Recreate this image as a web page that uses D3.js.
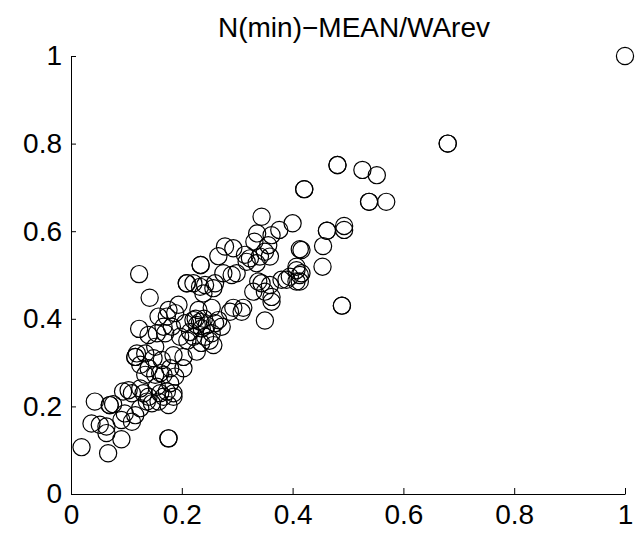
<!DOCTYPE html>
<html>
<head>
<meta charset="utf-8">
<script src="https://cdn.jsdelivr.net/npm/d3@7"></script>
<style>
  body { margin: 0; background: #fff; }
  svg { display: block; }
  .axis path, .axis line { stroke: #000; stroke-width: 1; }
  .axis text { font-family: "Liberation Sans", Arial, sans-serif; font-size: 28px; fill: #000; }
  .title { font-family: "Liberation Sans", Arial, sans-serif; font-size: 28px; fill: #000; }
</style>
</head>
<body>
<div id="chart"></div>
<script>
// Data
const xValues = [
    1.000, 0.680, 0.680, 0.481, 0.481, 0.526, 0.552, 0.538, 0.538, 0.569,
    0.421, 0.421, 0.462, 0.462, 0.493, 0.493, 0.455, 0.416, 0.413, 0.454,
    0.489, 0.489, 0.416, 0.413, 0.344, 0.400, 0.376, 0.336, 0.362, 0.331,
    0.278, 0.293, 0.356, 0.266, 0.314, 0.323, 0.350, 0.359, 0.317, 0.335,
    0.234, 0.234, 0.407, 0.413, 0.407, 0.299, 0.275, 0.338, 0.359, 0.380,
    0.329, 0.362, 0.362, 0.242, 0.257, 0.254, 0.293, 0.311, 0.341, 0.209,
    0.209, 0.221, 0.233, 0.260, 0.239, 0.290, 0.344, 0.350, 0.389, 0.395,
    0.407, 0.287, 0.308, 0.350, 0.142, 0.194, 0.176, 0.158, 0.230, 0.266,
    0.272, 0.233, 0.221, 0.227, 0.236, 0.206, 0.182, 0.170, 0.155, 0.197,
    0.221, 0.242, 0.254, 0.257, 0.227, 0.203, 0.185, 0.164, 0.152, 0.179,
    0.203, 0.167, 0.152, 0.179, 0.155, 0.185, 0.167, 0.123, 0.123, 0.140,
    0.173, 0.188, 0.167, 0.119, 0.116, 0.116, 0.134, 0.149, 0.125, 0.140,
    0.161, 0.188, 0.134, 0.104, 0.110, 0.094, 0.125, 0.131, 0.140, 0.161,
    0.173, 0.158, 0.176, 0.043, 0.070, 0.070, 0.076, 0.097, 0.116, 0.125,
    0.137, 0.146, 0.037, 0.052, 0.064, 0.091, 0.110, 0.064, 0.091, 0.019,
    0.067, 0.176, 0.176, 0.185, 0.225, 0.245, 0.215, 0.235, 0.260, 0.250,
    0.210, 0.240
];
const yValues = [
    1.000, 0.800, 0.800, 0.751, 0.751, 0.740, 0.728, 0.667, 0.667, 0.667,
    0.696, 0.696, 0.601, 0.601, 0.612, 0.603, 0.566, 0.557, 0.559, 0.519,
    0.430, 0.430, 0.504, 0.485, 0.633, 0.618, 0.603, 0.595, 0.591, 0.576,
    0.565, 0.561, 0.568, 0.543, 0.546, 0.538, 0.553, 0.542, 0.530, 0.527,
    0.523, 0.523, 0.519, 0.500, 0.485, 0.504, 0.504, 0.485, 0.477, 0.489,
    0.462, 0.450, 0.439, 0.477, 0.470, 0.425, 0.425, 0.425, 0.542, 0.481,
    0.481, 0.481, 0.473, 0.481, 0.458, 0.500, 0.481, 0.462, 0.489, 0.496,
    0.511, 0.416, 0.416, 0.396, 0.448, 0.432, 0.420, 0.405, 0.420, 0.397,
    0.382, 0.393, 0.397, 0.386, 0.378, 0.390, 0.382, 0.367, 0.367, 0.359,
    0.359, 0.359, 0.367, 0.340, 0.325, 0.313, 0.317, 0.306, 0.336, 0.287,
    0.287, 0.272, 0.272, 0.253, 0.245, 0.230, 0.222, 0.502, 0.377, 0.363,
    0.405, 0.413, 0.382, 0.321, 0.313, 0.313, 0.321, 0.310, 0.295, 0.287,
    0.276, 0.268, 0.272, 0.237, 0.230, 0.234, 0.241, 0.230, 0.222, 0.230,
    0.234, 0.211, 0.203, 0.211, 0.203, 0.203, 0.205, 0.184, 0.180, 0.196,
    0.211, 0.207, 0.161, 0.158, 0.154, 0.169, 0.165, 0.139, 0.125, 0.107,
    0.093, 0.127, 0.127, 0.222, 0.400, 0.385, 0.370, 0.345, 0.390, 0.350,
    0.350, 0.400
];
const xTicks = [0, 0.2, 0.4, 0.6, 0.8, 1];
const xTickLabels = ["0", "0.2", "0.4", "0.6", "0.8", "1"];
const yTicks = [0, 0.2, 0.4, 0.6, 0.8, 1];
const yTickLabels = ["0", "0.2", "0.4", "0.6", "0.8", "1"];
const title = "N(min)\u2212MEAN/WArev";

const points = xValues.map((x, i) => ({ x: x, y: yValues[i] }));

// Layout
const W = 637, H = 535;
const margin = { top: 56, right: 12, bottom: 41, left: 71 };
const width = W - margin.left - margin.right;
const height = H - margin.top - margin.bottom;

const svg = d3.select("#chart")
    .append("svg")
    .attr("width", W)
    .attr("height", H);

const g = svg.append("g")
    .attr("transform", `translate(${margin.left},${margin.top})`);

const x = d3.scaleLinear().domain([0, 1]).range([0, width]);
const y = d3.scaleLinear().domain([0, 1]).range([height, 0]);

// Axes: MATLAB style, ticks pointing inward, no box
g.append("g")
    .attr("class", "axis")
    .attr("transform", `translate(0,${height})`)
    .call(d3.axisBottom(x)
        .tickValues(xTicks)
        .tickFormat((d, i) => xTickLabels[i])
        .tickSizeInner(-6)
        .tickSizeOuter(0)
        .tickPadding(10));

g.append("g")
    .attr("class", "axis")
    .call(d3.axisLeft(y)
        .tickValues(yTicks)
        .tickFormat((d, i) => yTickLabels[i])
        .tickSizeInner(-5)
        .tickSizeOuter(0)
        .tickPadding(9));

// Circles
g.selectAll(".pt")
    .data(points)
    .enter()
    .append("circle")
    .attr("class", "pt")
    .attr("cx", d => x(d.x))
    .attr("cy", d => y(d.y))
    .attr("r", 8.6)
    .attr("fill", "none")
    .attr("stroke", "#000")
    .attr("stroke-width", 1.2);

// Title
svg.append("text")
    .attr("class", "title")
    .attr("x", 354)
    .attr("y", 37)
    .attr("text-anchor", "middle")
    .text(title);
</script>
</body>
</html>
